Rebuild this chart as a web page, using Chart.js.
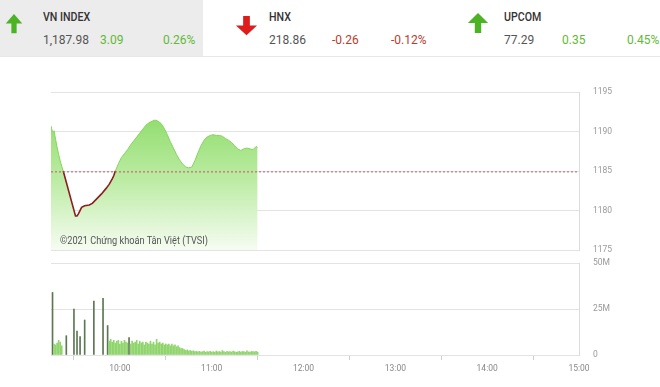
<!DOCTYPE html>
<html>
<head>
<meta charset="utf-8">
<script src="https://cdn.jsdelivr.net/npm/chart.js@4.4.0/dist/chart.umd.min.js"></script>
<style>
    body { margin: 0; width: 660px; height: 387px; background: #fff; position: relative; overflow: hidden; font-family: Roboto, 'Noto Sans', sans-serif; }
    #header { position: absolute; left: 0; top: 0; width: 660px; height: 56px; border-bottom: 1px solid #e8e8e8; }
    .panel { position: absolute; top: 0; height: 56px; }
    .arrow { position: absolute; }
    .name { position: absolute; top: 10px; font-size: 12.5px; font-weight: 500; color: #333; transform: scaleX(0.85); transform-origin: left; line-height: 14px; }
    .val { position: absolute; top: 33px; font-size: 12px; line-height: 14px; color: #555; }
    canvas { position: absolute; left: 0; }
    #watermark { position: absolute; left: 60px; top: 235px; font-size: 10px; line-height: 12px; color: #555; transform: scaleX(0.92); transform-origin: left; }
</style>
</head>
<body>
<div id="header"></div>
<canvas id="priceChart" width="660" height="185" style="top:80px"></canvas>
<canvas id="volumeChart" width="660" height="130" style="top:255px"></canvas>
<div id="watermark">©2021 Chứng khoán Tân Việt (TVSI)</div>
<script>
    // Index header values
    const indexNames = ['VN INDEX', 'HNX', 'UPCOM'];
    const indexPoints = ['1,187.98', '218.86', '77.29'];
    const indexChanges = ['3.09', '-0.26', '0.35'];
    const indexPercents = ['0.26%', '-0.12%', '0.45%'];

    // Intraday VN-Index (morning session)
    const priceTimes = [
        '09:15', '09:16', '09:17', '09:18', '09:19', '09:20', '09:21', '09:22', '09:23',
        '09:31', '09:32', '09:33', '09:35', '09:37', '09:40', '09:42', '09:45', '09:48', '09:51', '09:53', '09:55', '09:56', '09:57',
        '09:59', '10:01', '10:03', '10:05', '10:07', '10:09', '10:11', '10:13', '10:15', '10:17', '10:19',
        '10:21', '10:23', '10:25', '10:27', '10:29', '10:31', '10:33', '10:35', '10:37', '10:39',
        '10:41', '10:43', '10:45', '10:47', '10:49', '10:51', '10:53', '10:55', '10:57', '10:59',
        '11:01', '11:03', '11:05', '11:07', '11:09', '11:11', '11:13', '11:15', '11:17', '11:19',
        '11:21', '11:23', '11:25', '11:27', '11:29', '11:30'
    ];
    const priceValues = [
        1190.7, 1189.9, 1190.1, 1189.0, 1188.0, 1187.1, 1186.3, 1185.6, 1185.0,
        1179.3, 1179.3, 1179.6, 1180.4, 1180.6, 1180.7, 1180.9, 1181.5, 1182.1, 1182.8, 1183.3, 1184.0, 1184.4, 1185.0,
        1185.9, 1186.7, 1187.2, 1187.7, 1188.3, 1188.8, 1189.3, 1189.8, 1190.3, 1190.8, 1191.1,
        1191.3, 1191.45, 1191.3, 1191.0, 1190.4, 1189.6, 1188.7, 1187.9, 1187.1, 1186.4,
        1185.9, 1185.5, 1185.4, 1185.5, 1186.3, 1187.3, 1188.2, 1188.9, 1189.3, 1189.5,
        1189.6, 1189.5, 1189.5, 1189.4, 1189.1, 1188.9, 1188.6, 1188.2, 1187.8, 1187.6,
        1187.8, 1187.9, 1187.8, 1187.7, 1188.1, 1187.98
    ];
    const refLevel = 1184.89;

    // Volume per minute from 09:15 (millions), null = no bar
    const volumeStart = '09:15';
    const volumeValues = [
        null, 34, 6, 5.5, 6.5, 8, 7, 5, null, null,
        10.5, null, null, null, null, 25, null, 13, null, 10,
        null, null, 19, null, null, null, null, null, 29.3, null,
        null, null, null, null, 30.8, null, null, 16, 7.5, 8.5,
        7, 8, 6.5, 7.5, 8, 6, 7.5, 6.5, 8, 7,
        6.5, 9.5, 6, 7.5, 6.5, 7, 8, 6, 7.5, 6.5,
        7, 5.5, 7, 6.5, 6, 7.5, 6, 7, 5.5, 8.5,
        6.5, 7, 6, 6.5, 5.5, 6, 5.5, 6, 5, 6,
        5, 5.5, 4.5, 5, 4, 3.5, 3.5, 3, 2.5, 2.8,
        2.2, 2.5, 2, 2.3, 1.8, 2, 1.7, 2.0, 1.6, 1.8,
        2.1, 1.5, 1.9, 1.7, 2.0, 1.6, 1.8, 1.5, 2.2, 1.7,
        1.9, 1.6, 2.4, 1.8, 1.5, 2.0, 1.7, 1.9, 1.6, 2.1,
        1.8, 1.5, 1.7, 2.0, 1.6, 1.9, 1.8, 1.5, 2.2, 1.7,
        1.6, 1.9, 1.8, 1.7, 2.0, 1.6
    ];

    // Axis ticks
    const hourTicks = ['10:00', '11:00', '12:00', '13:00', '14:00', '15:00'];
    const sessionStart = '09:15';
    const sessionEnd = '15:00';

    const toMin = (t) => {
        const [h, m] = t.split(':').map(Number);
        return h * 60 + m;
    };
    const fmtMin = (v) => Math.floor(v / 60) + ':' + String(v % 60).padStart(2, '0');

    // Header
    const header = document.getElementById('header');
    const upPath = 'M12 1 L23 12 H15.5 V23 H8.5 V12 H1 Z';
    const downPath = 'M12 23 L23 12 H15.5 V1 H8.5 V12 H1 Z';
    const cols = [
        { left: 0, width: 203, bg: '#ececec', arrow: [5, 13, 18, 21], text: 43, chg: 100, pct: 163 },
        { left: 203, width: 230, bg: '#fff', arrow: [235, 15, 23, 21], text: 269, chg: 332, pct: 391 },
        { left: 433, width: 227, bg: '#fff', arrow: [467, 12, 22, 22], text: 504, chg: 562, pct: 627 }
    ];
    indexNames.forEach((name, i) => {
        const c = cols[i];
        const up = !indexChanges[i].startsWith('-');
        const color = up ? '#5fba35' : '#c0392b';
        const [ax, ay, aw, ah] = c.arrow;
        header.insertAdjacentHTML('beforeend',
            `<div class="panel" style="left:${c.left}px;width:${c.width}px;background:${c.bg}"></div>` +
            `<svg class="arrow" style="left:${ax}px;top:${ay}px" width="${aw}" height="${ah}" viewBox="0 0 24 24" preserveAspectRatio="none">` +
            `<path d="${up ? upPath : downPath}" fill="${up ? '#4cb324' : '#e01b1b'}"/></svg>` +
            `<div class="name" style="left:${c.text}px">${name}</div>` +
            `<div class="val" style="left:${c.text}px">${indexPoints[i]}</div>` +
            `<div class="val" style="left:${c.chg}px;color:${color}">${indexChanges[i]}</div>` +
            `<div class="val" style="left:${c.pct}px;color:${color}">${indexPercents[i]}</div>`);
    });

    const xMin = toMin(sessionStart);
    const xMax = toMin(sessionEnd);
    const tickMins = hourTicks.map(toMin);
    const gridColor = '#e3e3e3';
    const tickFont = { family: 'Roboto', size: 8.5 };

    // keep the plot area exactly where the layout padding puts it
    const noScalePadding = (s) => {
        s.paddingTop = 0;
        s.paddingBottom = 0;
        s.paddingLeft = 0;
        s.paddingRight = 0;
    };

    // Price chart
    const pricePoints = priceTimes.map((t, i) => ({ x: toMin(t), y: priceValues[i] }));
    const isBelow = (ctx) => Math.max(ctx.p0.parsed.y, ctx.p1.parsed.y) < refLevel + 0.2;

    new Chart(document.getElementById('priceChart'), {
        type: 'line',
        data: {
            datasets: [
                {
                    data: [{ x: xMin, y: refLevel }, { x: xMax, y: refLevel }],
                    borderColor: '#c9516c',
                    borderWidth: 1,
                    borderDash: [2, 2],
                    pointRadius: 0,
                    fill: false,
                    order: 0
                },
                {
                    // line only, red where below the reference
                    data: pricePoints,
                    borderColor: '#86d45f',
                    borderWidth: 1,
                    pointRadius: 0,
                    tension: 0,
                    fill: false,
                    order: 1,
                    segment: {
                        borderColor: (ctx) => (isBelow(ctx) ? '#8c1e1e' : '#86d45f'),
                        borderWidth: (ctx) => (isBelow(ctx) ? 1.6 : 1)
                    }
                },
                {
                    // area only
                    data: pricePoints,
                    borderWidth: 0,
                    pointRadius: 0,
                    tension: 0,
                    fill: 'start',
                    order: 2,
                    backgroundColor: (ctx) => {
                        const area = ctx.chart.chartArea;
                        if (!area) return '#b5e89c';
                        const g = ctx.chart.ctx.createLinearGradient(0, area.top + 20, 0, area.bottom);
                        g.addColorStop(0, '#8edc69');
                        g.addColorStop(0.5, '#bdeca5');
                        g.addColorStop(1, '#f6fcf2');
                        return g;
                    }
                }
            ]
        },
        options: {
            responsive: false,
            animation: false,
            layout: { padding: { left: 51, top: 12, right: 0, bottom: 15 } },
            plugins: { legend: { display: false }, tooltip: { enabled: false } },
            scales: {
                x: { type: 'linear', min: xMin, max: xMax, display: false },
                y: {
                    position: 'right',
                    min: 1175,
                    max: 1195,
                    afterFit: (s) => { s.width = 81; noScalePadding(s); },
                    ticks: { stepSize: 5, padding: 14, color: '#999', font: tickFont, callback: (v) => String(v) },
                    grid: { color: gridColor, drawTicks: false },
                    border: { display: true, color: '#dcdcdc' }
                }
            }
        }
    });

    // Volume chart
    const volStart = toMin(volumeStart);
    const volumePoints = volumeValues
        .map((v, i) => ({ x: volStart + i, y: v }))
        .filter((p) => p.y !== null);

    new Chart(document.getElementById('volumeChart'), {
        type: 'bar',
        data: {
            datasets: [
                {
                    data: volumePoints,
                    barThickness: 1,
                    backgroundColor: (ctx) => (ctx.raw && ctx.raw.y >= 9 ? '#5c7753' : '#8fd46c')
                }
            ]
        },
        options: {
            responsive: false,
            animation: false,
            layout: { padding: { left: 51, top: 8, right: 0, bottom: 0 } },
            plugins: { legend: { display: false }, tooltip: { enabled: false } },
            scales: {
                x: {
                    type: 'linear',
                    min: xMin,
                    max: xMax,
                    offset: false,
                    afterFit: (s) => { s.height = 30; noScalePadding(s); },
                    afterBuildTicks: (s) => { s.ticks = tickMins.map((v) => ({ value: v })); },
                    ticks: { autoSkip: false, maxRotation: 0, padding: 4, color: '#888', font: tickFont, callback: (v) => fmtMin(v) },
                    grid: { drawOnChartArea: false, drawTicks: true, tickLength: 5, color: '#cfcfcf' },
                    border: { display: false }
                },
                y: {
                    position: 'right',
                    min: 0,
                    max: 50,
                    afterFit: (s) => { s.width = 81; noScalePadding(s); },
                    ticks: { stepSize: 25, padding: 14, color: '#999', font: tickFont, callback: (v) => (v ? v + 'M' : '0') },
                    grid: { color: gridColor, drawTicks: false },
                    border: { display: true, color: '#dcdcdc' }
                }
            }
        }
    });
</script>
</body>
</html>
